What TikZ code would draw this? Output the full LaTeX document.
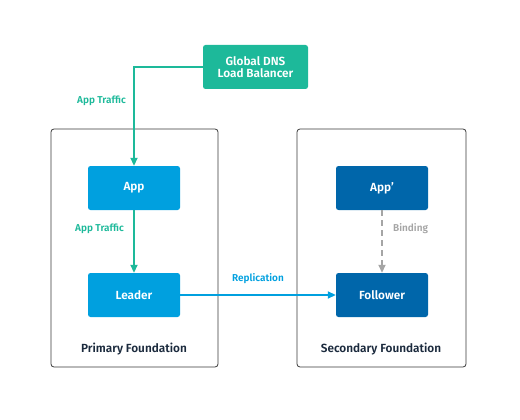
\documentclass[tikz,border=0pt]{standalone}
\usepackage{fontspec}
\setmainfont{Fira Sans}[BoldFont={Fira Sans SemiBold}]
\usetikzlibrary{arrows.meta,positioning}
\definecolor{teal}{HTML}{1DB99A}
\definecolor{appblue}{HTML}{00A0DF}
\definecolor{darkblue}{HTML}{0066AA}
\definecolor{navy}{HTML}{1B2A3D}
\definecolor{grayline}{HTML}{A5A5A5}
\definecolor{frame}{HTML}{3A3A3A}
\tikzset{
  box/.style={rounded corners=2.5pt, minimum width=92pt, minimum height=44pt, text=white, font=\bfseries\fontsize{11.8}{13}\selectfont, align=center, inner sep=0pt},
  frm/.style={draw=frame, line width=0.8pt, rounded corners=3pt},
  lbl/.style={font=\bfseries\fontsize{10}{11}\selectfont, inner sep=0pt},
  tip/.style={-{Triangle[length=8pt,width=7pt]}, line width=1.8pt},
}
\begin{document}
\begin{tikzpicture}[x=1pt,y=-1pt]
\useasboundingbox (0,0) rectangle (520,420);
\draw[frm] (51,129) rectangle (218,367);
\draw[frm] (297,129) rectangle (466,367);
\node[box, fill=teal, minimum width=105pt] (dns) at (255.5,67) {Global DNS\\[-1pt]Load Balancer};
\node[box, fill=appblue] (app) at (134,188) {App};
\node[box, fill=appblue] (leader) at (134,295) {Leader};
\node[box, fill=darkblue] (appp) at (382,188) {App'};
\node[box, fill=darkblue] (follower) at (382,295) {Follower};
\node[font=\bfseries\fontsize{11.8}{13}\selectfont, text=navy] (pf) at (134,349) {Primary Foundation};
\node[font=\bfseries\fontsize{11.8}{13}\selectfont, text=navy] (sf) at (381,349) {Secondary Foundation};
\draw[tip, draw=teal] (dns.west) -| (app.north);
\node[lbl, text=teal, anchor=east] (l1) at (126,101) {App Traffic};
\draw[tip, draw=teal] (app.south) -- (leader.north);
\node[lbl, text=teal, anchor=east] (l2) at (124,229) {App Traffic};
\draw[tip, draw=appblue] (leader.east) -- (follower.west);
\node[lbl, text=appblue] (l3) at (258,279) {Replication};
\draw[tip, draw=grayline, dash pattern=on 6pt off 4pt] (appp.south) -- (follower.north);
\node[lbl, text=grayline, anchor=west] (l4) at (393,229) {Binding};
\end{tikzpicture}
\end{document}
